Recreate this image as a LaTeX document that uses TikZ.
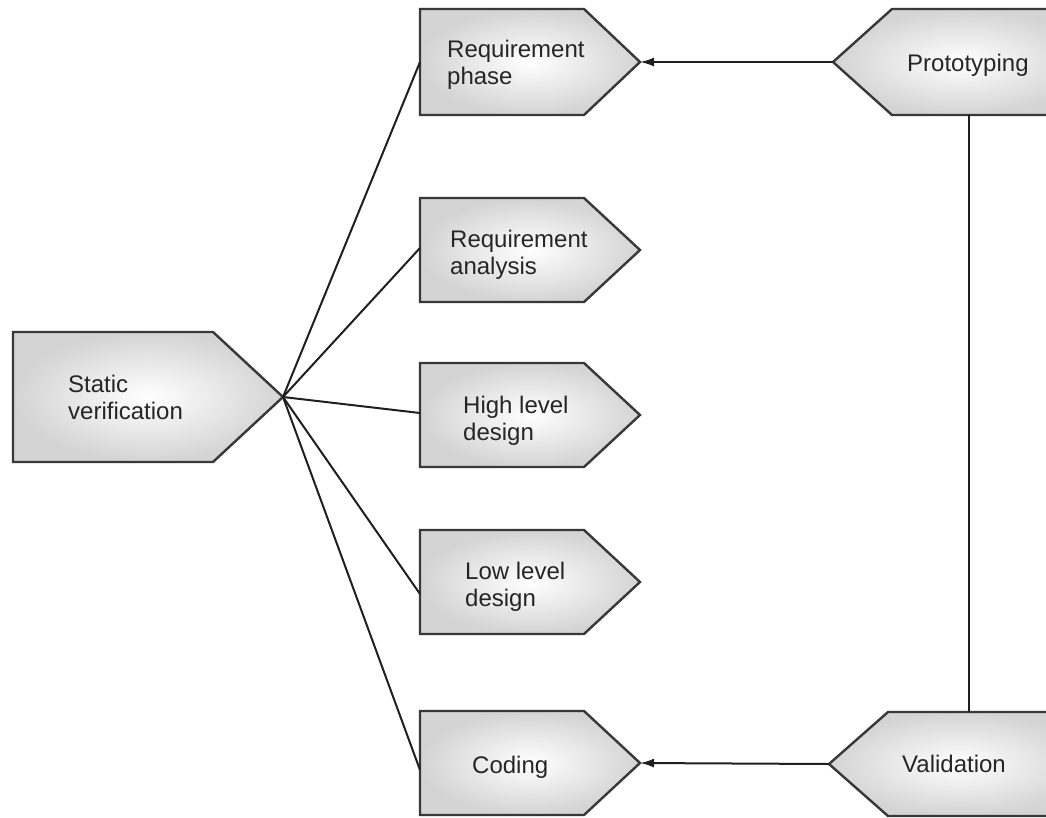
\documentclass[tikz,border=0pt]{standalone}
\usepackage{fontspec}
\setmainfont{Liberation Sans}
\usetikzlibrary{arrows.meta}

\tikzset{
  boxshape/.style={draw=black!78, line width=2.4pt, line join=miter,
    shading=radial, inner color=white, outer color=black!17},
  boxtext/.style={anchor=north west, inner sep=0pt, align=left,
    font=\fontsize{24}{26.5}\selectfont, text=black!85},
  conn/.style={draw=black!88, line width=2pt},
  arr/.style={conn, -{Latex[length=14pt,width=9pt]}},
}

% box pointing right: name, left x, top y, bottom y, shoulder x, tip x
\newcommand\pointbox[6]{%
  \path[boxshape] (#2,#3) -- (#5,#3) -- (#6,{(#3+#4)/2}) -- (#5,#4)
    -- (#2,#4) -- cycle;
  \coordinate (#1-tip) at (#6,{(#3+#4)/2});
}
% box pointing left, running off the right edge: name, tip x, shoulder x, top y, bottom y
\newcommand\backbox[5]{%
  \path[boxshape] (#2,{(#4+#5)/2}) -- (#3,#4) -- (1090,#4) -- (1090,#5)
    -- (#3,#5) -- cycle;
  \coordinate (#1-tip) at (#2,{(#4+#5)/2});
}

\begin{document}
\begin{tikzpicture}[x=1pt,y=-1pt]
  \useasboundingbox (0,0) rectangle (1046,817);
  \clip (0,0) rectangle (1046,817);

  % left-hand box
  \pointbox{sv}{13}{332}{462}{213}{283}
  \node[boxtext] (sv-label) at (68,375) {Static\\verification};

  % phase boxes
  \pointbox{rp}{420}{9}{115}{584}{640}
  \node[boxtext] (rp-label) at (447,40) {Requirement\\phase};
  \coordinate (rp-in) at (420,62);

  \pointbox{ra}{420}{198}{302}{584}{640}
  \node[boxtext] (ra-label) at (450,230) {Requirement\\analysis};
  \coordinate (ra-in) at (420,248);

  \pointbox{hl}{420}{363}{467}{584}{640}
  \node[boxtext] (hl-label) at (463,396) {High level\\design};
  \coordinate (hl-in) at (420,413);

  \pointbox{ll}{420}{530}{634}{584}{640}
  \node[boxtext] (ll-label) at (465,562) {Low level\\design};
  \coordinate (ll-in) at (420,594);

  \pointbox{co}{420}{711}{815}{584}{640}
  \node[boxtext] (co-label) at (472,756) {Coding};
  \coordinate (co-in) at (420,770);

  % right-hand boxes
  \backbox{pr}{833}{892}{9}{115}
  \node[boxtext] (pr-label) at (907,54) {Prototyping};
  \coordinate (pr-bot) at (969,115);

  \backbox{va}{829}{888}{712}{816}
  \node[boxtext] (va-label) at (902,755) {Validation};
  \coordinate (va-top) at (969,712);

  % fan of connectors from static verification
  \foreach \t in {rp,ra,hl,ll,co}
    \draw[conn] (sv-tip) -- (\t-in);

  % feedback arrows
  \draw[arr] (pr-tip) -- (rp-tip);
  \draw[arr] (va-tip) -- (co-tip);
  \draw[conn] (pr-bot) -- (va-top);
\end{tikzpicture}
\end{document}
